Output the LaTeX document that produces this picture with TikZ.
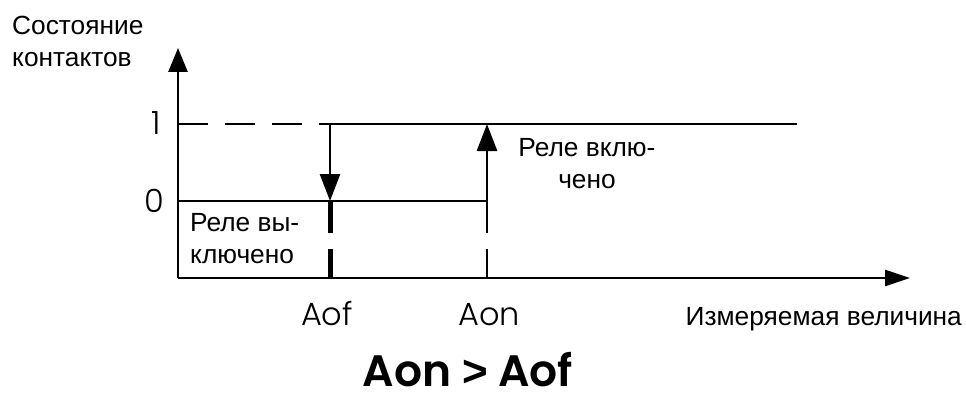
\documentclass[tikz,border=0pt]{standalone}
\usepackage{fontspec}
\setmainfont{Liberation Sans}
\newfontfamily\geolight{Poppins Light}
\newfontfamily\geobold{Poppins SemiBold}
\usetikzlibrary{arrows.meta}
\begin{document}
\begin{tikzpicture}[x=1pt,y=-1pt,
  line/.style={line width=2.6pt},
  axarrow/.style={line width=2.6pt,-{Triangle[length=24pt,width=19pt]}},
  jump/.style={line width=2.6pt,-{Triangle[length=27pt,width=20pt]}},
  lbl/.style={inner sep=0pt,font=\fontsize{26.3}{32}\selectfont},
  geo/.style={inner sep=0pt,font=\geolight\fontsize{32}{36}\selectfont},
]
\useasboundingbox (0,0) rectangle (966,401);
% key points
\coordinate (O) at (178,278);
\coordinate (ytop) at (178,48);
\coordinate (xend) at (910,278);
\coordinate (h0) at (178,124);
\coordinate (l0) at (178,201);
\coordinate (ofhi) at (330,124);
\coordinate (oflo) at (330,201);
\coordinate (ofax) at (330,278);
\coordinate (onhi) at (487,124);
\coordinate (onlo) at (487,201);
\coordinate (onax) at (487,278);
\coordinate (hend) at (797,124);
% axes
\draw[axarrow] (O) -- (ytop);
\draw[axarrow,-{Triangle[length=25pt,width=16pt]}] (O) -- (xend);
% levels
\draw[line width=2pt,dash pattern=on 30pt off 17pt] (h0) -- (ofhi);
\draw[line] (ofhi) -- (hend);
\draw[line] (l0) -- (onlo);
% transitions
\draw[jump] (ofhi) -- (oflo);
\draw[jump] (onlo) -- (onhi);
\draw[line width=5pt,dash pattern=on 32pt off 16pt] (oflo) -- (ofax);
\draw[line width=2pt,dash pattern=on 32pt off 16pt] (onlo) -- (onax);
% texts (base anchor = baseline of last line)
\node[lbl,anchor=base west,align=left] (ylab) at (12,67) {Состояние\\контактов};
\node[geo,anchor=base east] (one) at (161,135) {1};
\node[geo,anchor=base east] (zero) at (164,212) {0};
\node[lbl,anchor=base west,align=left] (off) at (190,263) {Реле вы-\\ключено};
\node[lbl,anchor=base,align=center] (on) at (587,188) {Реле вклю-\\чено};
\node[geo,anchor=base] (aof) at (327,325) {Aof};
\node[geo,anchor=base] (aon) at (489,325) {Aon};
\node[lbl,anchor=base east] (xlab) at (962,325) {Измеряемая величина};
\node[inner sep=0pt,anchor=base,text depth=0pt,font=\geobold\fontsize{44}{48}\selectfont] (title) at (468,386) {Aon {\rmfamily\bfseries >} Aof};
\end{tikzpicture}
\end{document}
